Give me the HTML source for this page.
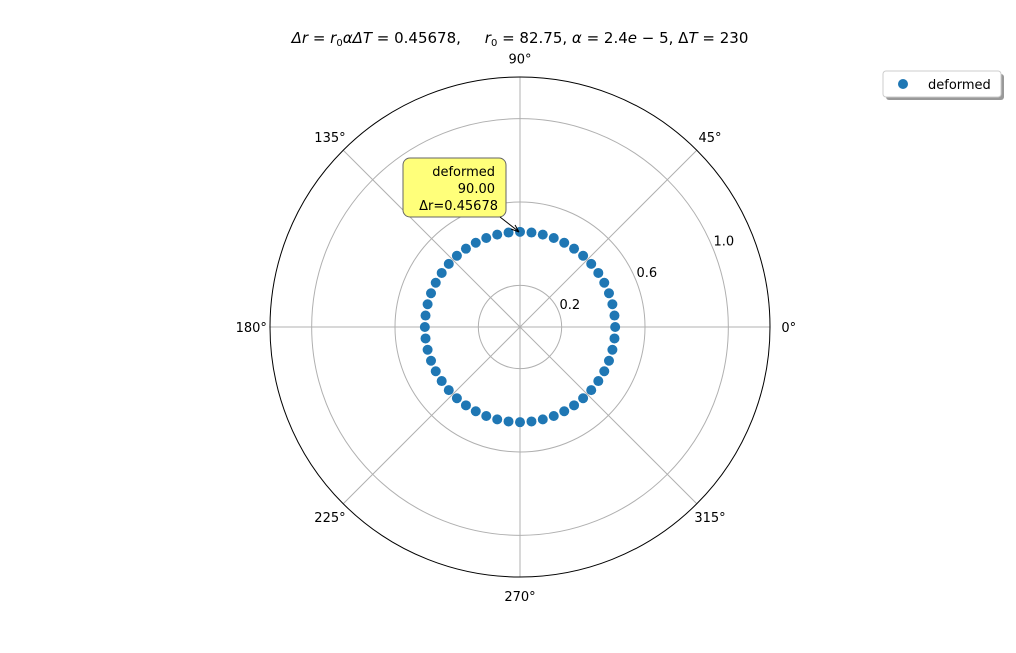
<!DOCTYPE html>
<html><head><meta charset="utf-8"><style>
body{margin:0;background:#fff;font-family:"DejaVu Sans","Liberation Sans",sans-serif;}
svg text{font-family:"DejaVu Sans","Liberation Sans",sans-serif;}
</style></head><body>
<svg id="chart" width="1016" height="649" xmlns="http://www.w3.org/2000/svg">
<text x="520" y="43" text-anchor="middle" font-size="15" xml:space="preserve"><tspan font-style="italic">Δr</tspan> = <tspan font-style="italic">r</tspan><tspan font-size="10" dy="3">0</tspan><tspan dy="-3" font-style="italic">αΔT</tspan> = 0.45678,     <tspan font-style="italic">r</tspan><tspan font-size="10" dy="3">0</tspan><tspan dy="-3"> = 82.75, </tspan><tspan font-style="italic">α</tspan> = 2.4<tspan font-style="italic">e</tspan> − 5, Δ<tspan font-style="italic">T</tspan> = 230</text>
<g id="grid"></g>
<g id="pts"></g>
<g>
<rect x="403" y="158" width="103" height="59" rx="7" fill="#ffff7a" stroke="#666" stroke-width="1"/>
<text x="495" y="176" text-anchor="end" font-size="13">deformed</text>
<text x="495" y="193" text-anchor="end" font-size="13">90.00</text>
<text x="498" y="210" text-anchor="end" font-size="13">Δr=0.45678</text>
<line x1="500" y1="217" x2="518" y2="231" stroke="#000" stroke-width="1"/>
<path d="M519,232 L511,229 M519,232 L515,225" stroke="#000" fill="none"/>
</g>
<g>
<rect x="886" y="74" width="118" height="26" rx="3" fill="#999"/>
<rect x="883" y="71" width="118" height="26" rx="3" fill="#fff" stroke="#ccc"/>
<circle cx="903" cy="84" r="5" fill="#1f77b4"/>
<text x="928" y="89" font-size="13">deformed</text>
</g>
</svg>
<script>
const rTicks=[0.2,0.6,1.0];
const angleTicks=[0,45,90,135,180,225,270,315];
const rMax=1.2;
const drValue=[0.45678];
const nPoints=[52];
const cx=520,cy=327,R=250;
const ns="http://www.w3.org/2000/svg";
function rs(r){return r/rMax*R;}
function px(a,r){return cx+rs(r)*Math.cos(a*Math.PI/180);}
function py(a,r){return cy-rs(r)*Math.sin(a*Math.PI/180);}
const g=document.getElementById('grid');
function mk(t,at,par){const e=document.createElementNS(ns,t);for(const k in at)e.setAttribute(k,at[k]);par.appendChild(e);return e;}
rTicks.forEach(r=>{
 const c=mk('circle',{cx:cx,cy:cy,r:rs(r),fill:'none',stroke:'#b0b0b0','stroke-width':1},g);
 
 
 const t=mk('text',{x:px(22.5,r)+1,y:py(22.5,r)-2,'font-size':13},g);
 
 
 t.textContent=r.toFixed(1);
});
angleTicks.forEach(a=>{
 const l=mk('line',{x1:cx,y1:cy,x2:px(a,rMax),y2:py(a,rMax),stroke:'#b0b0b0','stroke-width':1},g);
 
 
 const t=mk('text',{x:px(a,rMax*1.075),y:py(a,rMax*1.075)+5,'font-size':13,'text-anchor':'middle'},g);
 
 
 t.textContent=a+'°';
});
const o=mk('circle',{cx:cx,cy:cy,r:R,fill:'none',stroke:'#000','stroke-width':1},g);


const pg=document.getElementById('pts');
for(let i=0;i<nPoints[0];i++){
 const a=i*360/nPoints[0];
 const c=mk('circle',{cx:px(a,drValue[0]),cy:py(a,drValue[0]),r:5,fill:'#1f77b4'},pg);
 
 
}
</script>
</body></html>
